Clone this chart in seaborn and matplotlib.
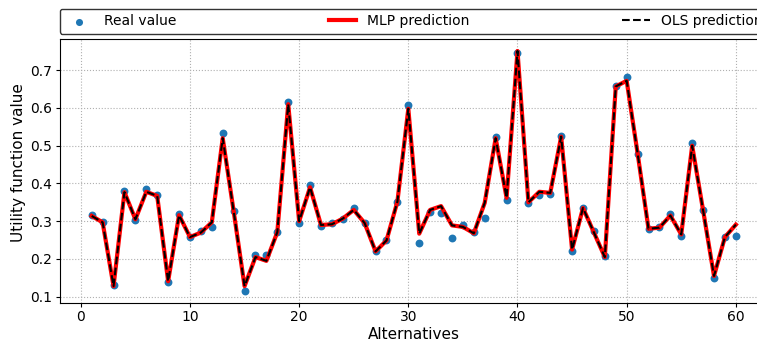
import matplotlib
matplotlib.use('Agg')
import matplotlib.pyplot as plt
import seaborn as sns
import pandas as pd

# values
alternatives = list(range(1, 61))
real_value = [0.316, 0.297, 0.130, 0.380, 0.302, 0.386, 0.369, 0.139, 0.319, 0.257,
              0.273, 0.285, 0.533, 0.327, 0.116, 0.211, 0.211, 0.271, 0.615, 0.296,
              0.397, 0.288, 0.295, 0.307, 0.334, 0.295, 0.222, 0.249, 0.352, 0.607,
              0.243, 0.324, 0.322, 0.255, 0.291, 0.271, 0.309, 0.523, 0.355, 0.745,
              0.348, 0.370, 0.373, 0.526, 0.220, 0.334, 0.273, 0.209, 0.657, 0.681,
              0.477, 0.280, 0.284, 0.320, 0.262, 0.508, 0.329, 0.150, 0.258, 0.261]
mlp_pred = [0.314, 0.297, 0.128, 0.377, 0.305, 0.378, 0.367, 0.141, 0.316, 0.258,
            0.270, 0.297, 0.520, 0.327, 0.128, 0.205, 0.195, 0.271, 0.610, 0.300,
            0.390, 0.290, 0.292, 0.307, 0.330, 0.295, 0.220, 0.249, 0.352, 0.598,
            0.267, 0.330, 0.340, 0.289, 0.285, 0.268, 0.349, 0.520, 0.362, 0.751,
            0.350, 0.378, 0.375, 0.524, 0.225, 0.335, 0.270, 0.205, 0.657, 0.672,
            0.480, 0.280, 0.283, 0.315, 0.265, 0.500, 0.329, 0.155, 0.258, 0.291]
ols_pred = [0.314, 0.297, 0.128, 0.377, 0.305, 0.378, 0.367, 0.141, 0.316, 0.258,
            0.270, 0.297, 0.520, 0.327, 0.128, 0.205, 0.195, 0.271, 0.610, 0.300,
            0.390, 0.290, 0.292, 0.307, 0.330, 0.295, 0.220, 0.249, 0.352, 0.598,
            0.267, 0.330, 0.340, 0.289, 0.285, 0.268, 0.349, 0.520, 0.362, 0.751,
            0.350, 0.378, 0.375, 0.524, 0.225, 0.335, 0.270, 0.205, 0.657, 0.672,
            0.480, 0.280, 0.283, 0.315, 0.265, 0.500, 0.329, 0.155, 0.258, 0.291]

df = pd.DataFrame({'alt': alternatives, 'real': real_value,
                   'mlp': mlp_pred, 'ols': ols_pred})

plt.rcParams['xtick.major.pad'] = 2.5
plt.rcParams['ytick.major.pad'] = 2.5
plt.rcParams['xtick.major.size'] = 3
plt.rcParams['ytick.major.size'] = 3

fig = plt.figure(figsize=(7.57, 3.42), dpi=100)
ax = fig.add_axes([0.0786, 0.115, 0.936, 0.771])

sns.scatterplot(data=df, x='alt', y='real', ax=ax, color='#1f77b4',
                s=32, linewidth=0, label='Real value', zorder=2)
sns.lineplot(data=df, x='alt', y='mlp', ax=ax, color='red', linewidth=3,
             label='MLP prediction', zorder=3)
sns.lineplot(data=df, x='alt', y='ols', ax=ax, color='black', linewidth=1.5,
             linestyle='--', label='OLS prediction', zorder=4)

ax.grid(True, linestyle=':', color='#b0b0b0')
ax.set_axisbelow(True)
ax.set_xlabel('Alternatives', fontsize=11, labelpad=2)
ax.set_ylabel('Utility function value', fontsize=11)
ax.tick_params(labelsize=10)
ax.yaxis.set_label_coords(-0.047, 0.53)
ax.margins(x=0.05, y=0.05)
ax.legend(loc='lower left', bbox_to_anchor=(0, 1.02, 1, 0.102), ncol=3,
          mode='expand', borderaxespad=0, fancybox=True, edgecolor='#333333',
          framealpha=1, markerscale=0.9)

fig.savefig('out.png', dpi=100)
